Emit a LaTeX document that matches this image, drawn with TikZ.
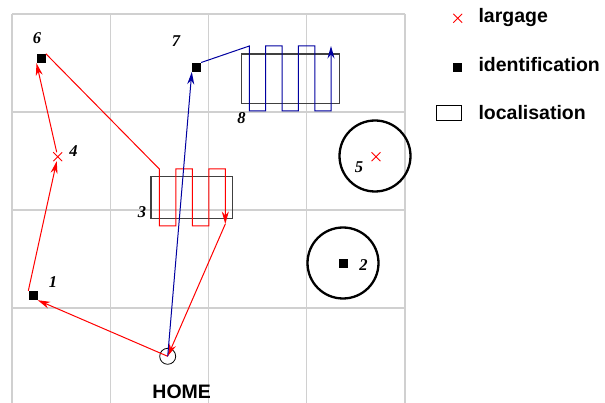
\documentclass[tikz,border=0pt]{standalone}
\usepackage{fontspec}
\setmainfont{Liberation Serif}
\setsansfont{Liberation Sans}
\usetikzlibrary{shapes.misc,arrows.meta}

\definecolor{pathblue}{RGB}{0,0,160}
\definecolor{gridgray}{RGB}{208,208,208}
\definecolor{boxgray}{RGB}{64,64,64}

\tikzset{
  gridline/.style={gridgray, line width=1.3pt},
  ident/.style={fill=black, minimum size=9pt, inner sep=0pt},
  larg/.style={cross out, draw=red, minimum size=8pt, inner sep=0pt, line width=0.9pt},
  locbox/.style={draw=boxgray, line width=1.1pt, inner sep=0pt},
  zone/.style={circle, draw, line width=2.3pt, minimum size=71pt, inner sep=0pt},
  num/.style={font=\fontsize{16.5}{18}\selectfont\bfseries\itshape, inner sep=0pt},
  legend/.style={font=\fontsize{19.5}{22}\selectfont\sffamily\bfseries, inner sep=0pt, anchor=base west},
  redpath/.style={red, line width=1pt, -{Stealth[length=12.5pt,width=7pt]}},
  bluepath/.style={pathblue, line width=1pt, -{Stealth[length=12.5pt,width=7pt]}},
}

\begin{document}
\begin{tikzpicture}[x=1pt, y=-1pt]
  \useasboundingbox (0,0) rectangle (605,403);

  % grid
  \foreach \gx in {12,110.3,208.5,306.7,405} \draw[gridline] (\gx,14) -- (\gx,406);
  \foreach \gy in {14,112,210,308,406} \draw[gridline] (12,\gy) -- (405,\gy);

  % zones
  \node[locbox, minimum width=81.7pt, minimum height=41.6pt] (z3) at (191.8,197.5) {};
  \node[locbox, minimum width=98.3pt, minimum height=49.3pt] (z8) at (290.2,78.7) {};
  \node[zone] (z5) at (375,156) {};
  \node[zone] (z2) at (343,263) {};

  % targets
  \node[ident] (n1) at (33,295.5) {};
  \node[ident] (n2) at (343.3,263.3) {};
  \node[larg] (n4) at (57.7,156.7) {};
  \node[larg] (n5) at (376,156.7) {};
  \node[ident] (n6) at (41.2,58.5) {};
  \node[ident] (n7) at (196.5,67.2) {};
  \node[circle, draw, line width=0.8pt, minimum size=16pt, inner sep=0pt] (home) at (167.7,356.3) {};

  \node[num] (l1) at (53,282) {1};
  \node[num] (l2) at (363.5,265) {2};
  \node[num] (l3) at (142,212) {3};
  \node[num] (l4) at (73.5,151) {4};
  \node[num] (l5) at (359,167) {5};
  \node[num] (l6) at (37,38) {6};
  \node[num] (l7) at (176,41) {7};
  \node[num] (l8) at (241.5,118) {8};
  \node[font=\fontsize{19.5}{22}\selectfont\sffamily\bfseries, inner sep=0pt, anchor=base] (lhome) at (181.7,398.3) {HOME};

  % red tour
  \draw[redpath] (home.center) -- (n1.south east);
  \draw[redpath] (n1.north west) -- (n4);
  \draw[redpath] (n4) -- (n6.south west);
  \draw[redpath] (n6.north east) -- (159.3,169) -- (159.3,226) -- (175.8,226) -- (175.8,169)
    -- (192.3,169) -- (192.3,226) -- (208.8,226) -- (208.8,169) -- (225.3,169) -- (225.3,224) coordinate (z3out);
  \draw[redpath] (z3out) -- (home.center);

  % blue tour
  \draw[bluepath] (home.center) -- (n7.south west);
  \draw[bluepath] (n7.north east) -- (249.3,46) -- (249.3,111) -- (265.7,111) -- (265.7,46)
    -- (282,46) -- (282,111) -- (298.4,111) -- (298.4,46) -- (314.8,46) -- (314.8,111) -- (331,111) -- (331,46);

  % legend
  \node[larg] (legx) at (457.7,18.3) {};
  \node[legend] (legxt) at (478.3,22.7) {largage};
  \node[ident] (legs) at (457.7,67.7) {};
  \node[legend] (legst) at (478.3,71.7) {identification};
  \node[draw, line width=0.9pt, minimum width=25pt, minimum height=15pt, inner sep=0pt] (legb) at (449.2,112.5) {};
  \node[legend] (legbt) at (478.3,120) {localisation};
\end{tikzpicture}
\end{document}
